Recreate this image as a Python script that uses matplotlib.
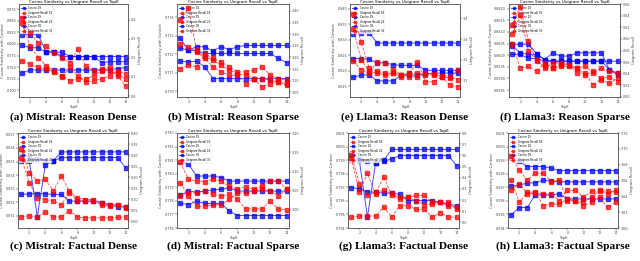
import numpy as np
import matplotlib.pyplot as plt

topk = list(range(1, 15))

series_labels = ["Cosine 1S", "Unigram Recall 1S", "Cosine 2S",
                 "Unigram Recall 2S", "Cosine 3S", "Unigram Recall 3S"]

captions = ["(a) Mistral: Reason Dense", "(b) Mistral: Reason Sparse",
            "(e) Llama3: Reason Dense", "(f) Llama3: Reason Sparse",
            "(c) Mistral: Factual Dense", "(d) Mistral: Factual Sparse",
            "(g) Llama3: Factual Dense", "(h) Llama3: Factual Sparse"]

# (a) Mistral reason dense
a_cos = [[0.820, 0.820, 0.820, 0.783, 0.783, 0.773, 0.773, 0.773, 0.773, 0.773, 0.773, 0.773, 0.773, 0.773],
         [0.797, 0.792, 0.792, 0.783, 0.783, 0.782, 0.773, 0.773, 0.773, 0.773, 0.760, 0.762, 0.762, 0.762],
         [0.738, 0.744, 0.744, 0.744, 0.744, 0.744, 0.744, 0.744, 0.744, 0.744, 0.744, 0.745, 0.747, 0.749]]
a_rec = [[0.409, 0.331, 0.279, 0.262, 0.228, 0.202, 0.176, 0.245, 0.159, 0.133, 0.141, 0.150, 0.116, 0.090],
         [0.383, 0.262, 0.202, 0.159, 0.133, 0.107, 0.081, 0.090, 0.090, 0.107, 0.133, 0.133, 0.107, 0.052],
         [0.185, 0.167, 0.150, 0.141, 0.124, 0.098, 0.150, 0.107, 0.073, 0.081, 0.090, 0.107, 0.133, 0.116]]

# (b) Mistral reason sparse
b_cos = [[0.77234, 0.77222, 0.77240, 0.77240, 0.77218, 0.77240, 0.77225, 0.77240, 0.77247, 0.77247, 0.77247, 0.77247, 0.77247, 0.77247],
         [0.77285, 0.77222, 0.77218, 0.77204, 0.77204, 0.77204, 0.77204, 0.77204, 0.77204, 0.77204, 0.77204, 0.77204, 0.77177, 0.77155],
         [0.77162, 0.77159, 0.77162, 0.77132, 0.77069, 0.77069, 0.77069, 0.77069, 0.77069, 0.77069, 0.77069, 0.77069, 0.77069, 0.77069]]
b_rec = [[3.361, 3.411, 3.231, 3.203, 3.188, 3.167, 3.145, 3.131, 3.124, 3.109, 3.109, 3.102, 3.095, 3.088],
         [3.152, 3.167, 3.160, 3.217, 3.196, 3.181, 3.160, 3.138, 3.138, 3.145, 3.160, 3.124, 3.109, 3.102],
         [3.260, 3.246, 3.224, 3.196, 3.160, 3.138, 3.124, 3.124, 3.088, 3.109, 3.073, 3.088, 3.095, 3.080]]

# (e) Llama3 reason dense
e_cos = [[0.8318, 0.8322, 0.8322, 0.8289, 0.8289, 0.8289, 0.8289, 0.8289, 0.8289, 0.8289, 0.8289, 0.8289, 0.8289, 0.8289],
         [0.8239, 0.8239, 0.8236, 0.8225, 0.8225, 0.8219, 0.8217, 0.8217, 0.8217, 0.8201, 0.8201, 0.8201, 0.8201, 0.8201],
         [0.8178, 0.8186, 0.8186, 0.8167, 0.8167, 0.8167, 0.8186, 0.8186, 0.8186, 0.8189, 0.8192, 0.8192, 0.8192, 0.8192]]
e_rec = [[3.424, 3.284, 3.160, 3.144, 3.135, 3.135, 3.127, 3.119, 3.119, 3.127, 3.127, 3.124, 3.119, 3.102],
         [3.193, 3.152, 3.135, 3.190, 3.185, 3.152, 3.127, 3.135, 3.190, 3.094, 3.094, 3.119, 3.078, 3.070],
         [3.350, 3.201, 3.144, 3.135, 3.127, 3.135, 3.119, 3.135, 3.135, 3.135, 3.130, 3.119, 3.111, 3.152]]

# (f) Llama3 reason sparse
f_cos = [[0.86047, 0.86047, 0.86047, 0.86006, 0.85981, 0.86010, 0.85996, 0.85996, 0.86010, 0.86010, 0.86010, 0.86010, 0.85937, 0.85923],
         [0.86003, 0.86003, 0.85986, 0.85986, 0.85974, 0.85974, 0.85974, 0.85974, 0.85974, 0.85974, 0.85974, 0.85974, 0.85974, 0.85974],
         [0.86040, 0.86010, 0.86003, 0.86003, 0.85981, 0.85974, 0.85974, 0.85974, 0.85974, 0.85974, 0.85974, 0.85974, 0.85937, 0.85915]]
f_rec = [[0.6084, 0.6406, 0.5792, 0.5645, 0.5498, 0.5586, 0.5586, 0.5557, 0.5410, 0.5410, 0.5205, 0.5322, 0.5352, 0.5264],
         [0.6231, 0.6553, 0.5967, 0.5616, 0.5528, 0.5498, 0.5528, 0.5528, 0.5498, 0.5381, 0.5440, 0.5293, 0.5235, 0.5322],
         [0.5909, 0.5498, 0.5528, 0.5440, 0.5586, 0.5498, 0.5557, 0.5557, 0.5498, 0.5528, 0.5410, 0.5498, 0.5440, 0.5410]]

# (c) Mistral factual dense
c_cos = [[0.83505, 0.83505, 0.83092, 0.83473, 0.83505, 0.83571, 0.83571, 0.83571, 0.83571, 0.83571, 0.83571, 0.83571, 0.83571, 0.83571],
         [0.83554, 0.83529, 0.83517, 0.83505, 0.83505, 0.83529, 0.83529, 0.83529, 0.83529, 0.83529, 0.83529, 0.83529, 0.83529, 0.83455],
         [0.83257, 0.83262, 0.83262, 0.83262, 0.83257, 0.83257, 0.83208, 0.83208, 0.83208, 0.83208, 0.83196, 0.83183, 0.83166, 0.83166]]
c_rec = [[0.327, 0.221, 0.183, 0.190, 0.137, 0.206, 0.137, 0.107, 0.099, 0.099, 0.084, 0.076, 0.076, 0.061],
         [0.289, 0.175, 0.107, 0.099, 0.092, 0.076, 0.130, 0.092, 0.092, 0.092, 0.076, 0.069, 0.076, 0.066],
         [0.020, 0.026, 0.020, 0.043, 0.020, 0.020, 0.049, 0.020, 0.016, 0.016, 0.016, 0.016, 0.019, 0.019]]

# (d) Mistral factual sparse
d_cos = [[0.78095, 0.78070, 0.77983, 0.77983, 0.77983, 0.77971, 0.77946, 0.77946, 0.77946, 0.77946, 0.77946, 0.77946, 0.77946, 0.77946],
         [0.77840, 0.77872, 0.77865, 0.77872, 0.77880, 0.77885, 0.77897, 0.77872, 0.77872, 0.77872, 0.77872, 0.77872, 0.77872, 0.77872],
         [0.77781, 0.77773, 0.77798, 0.77781, 0.77781, 0.77781, 0.77724, 0.77692, 0.77692, 0.77692, 0.77692, 0.77692, 0.77692, 0.77692]]
d_rec = [[3.124, 3.080, 3.075, 3.073, 3.080, 3.075, 3.062, 3.053, 3.060, 3.053, 3.062, 3.075, 3.075, 3.053],
         [3.071, 3.036, 3.009, 3.009, 3.013, 3.013, 3.027, 3.044, 3.044, 3.049, 3.053, 3.049, 3.037, 3.053],
         [3.036, 3.044, 3.044, 3.049, 3.040, 3.036, 3.040, 3.027, 3.002, 3.002, 3.002, 3.022, 3.002, 3.000]]

# (g) Llama3 factual dense
g_cos = [[0.79903, 0.79898, 0.79481, 0.79878, 0.79898, 0.79979, 0.79979, 0.79979, 0.79979, 0.79979, 0.79979, 0.79979, 0.79979, 0.79979],
         [0.79954, 0.79909, 0.79891, 0.79878, 0.79891, 0.79909, 0.79934, 0.79934, 0.79934, 0.79934, 0.79934, 0.79934, 0.79934, 0.79858],
         [0.79697, 0.79690, 0.79665, 0.79665, 0.79657, 0.79657, 0.79647, 0.79602, 0.79602, 0.79602, 0.79602, 0.79589, 0.79576, 0.79564]]
g_rec = [[0.577, 0.271, 0.439, 0.256, 0.409, 0.241, 0.225, 0.225, 0.241, 0.241, 0.179, 0.179, 0.149, 0.134],
         [0.607, 0.348, 0.241, 0.271, 0.287, 0.262, 0.210, 0.225, 0.195, 0.158, 0.164, 0.179, 0.179, 0.118],
         [0.048, 0.057, 0.057, 0.057, 0.134, 0.048, 0.149, 0.149, 0.118, 0.118, 0.048, 0.088, 0.048, 0.048]]

# (h) Llama3 factual sparse
h_cos = [[0.59916, 0.59891, 0.59853, 0.59853, 0.59853, 0.59840, 0.59823, 0.59823, 0.59823, 0.59823, 0.59823, 0.59823, 0.59823, 0.59823],
         [0.59707, 0.59715, 0.59732, 0.59732, 0.59753, 0.59745, 0.59740, 0.59740, 0.59740, 0.59740, 0.59740, 0.59740, 0.59740, 0.59740],
         [0.59496, 0.59551, 0.59551, 0.59644, 0.59644, 0.59644, 0.59652, 0.59614, 0.59614, 0.59614, 0.59614, 0.59614, 0.59614, 0.59614]]
h_rec = [[3.6906, 3.6734, 3.6605, 3.6691, 3.6691, 3.6583, 3.6605, 3.6345, 3.6345, 3.6324, 3.6389, 3.6475, 3.6432, 3.6475],
         [3.6605, 3.6324, 3.6453, 3.6453, 3.6281, 3.6302, 3.6302, 3.6367, 3.6345, 3.6281, 3.6324, 3.6389, 3.6259, 3.6324],
         [3.6475, 3.6561, 3.6432, 3.6440, 3.6432, 3.6432, 3.6345, 3.6475, 3.6475, 3.6389, 3.6466, 3.6466, 3.6466, 3.6453]]

cos_data = [a_cos, b_cos, e_cos, f_cos, c_cos, d_cos, g_cos, h_cos]
rec_data = [a_rec, b_rec, e_rec, f_rec, c_rec, d_rec, g_rec, h_rec]

# axis ranges (left cosine, right recall)
cos_lims = [(0.686, 0.886), (0.7697, 0.7747), (0.8115, 0.8415), (0.8582, 0.8622),
            (0.8301, 0.8371), (0.7760, 0.7830), (0.7940, 0.8010), (0.5940, 0.6010)]
rec_lims = [(-0.005, 0.483), (3.03, 3.43), (3.02, 3.47), (0.50, 0.66),
            (-0.03, 0.40), (2.952, 3.201), (-0.05, 0.80), (3.60, 3.72)]

# axes boxes in pixels: left, right, top, bottom
boxes = [(19, 128, 4, 97), (177, 289, 4, 97), (350, 460, 4, 97), (509, 620, 4, 97),
         (18, 128, 133, 228), (177, 289, 133, 228), (348, 459, 133, 228), (508, 618, 133, 228)]
W, H = 640, 261

fig = plt.figure(figsize=(6.4, 2.61), dpi=100)

for i in range(8):
    l, r, t, b = boxes[i]
    ax = fig.add_axes([l / W, 1 - b / H, (r - l) / W, (b - t) / H])
    ax2 = ax.twinx()
    handles = []
    for j in range(3):
        h1, = ax.plot(topk, cos_data[i][j], '-s', color='blue', alpha=0.7,
                      lw=0.7, ms=2.2, label=series_labels[2 * j])
        h2, = ax2.plot(topk, rec_data[i][j], '--s', color='red', alpha=0.7,
                       lw=0.6, ms=2.2, label=series_labels[2 * j + 1])
        handles += [h1, h2]
    ax.set_xlim(0.6, 14.3)
    ax.set_ylim(*cos_lims[i])
    ax2.set_ylim(*rec_lims[i])
    ax.set_xticks(range(2, 15, 2))
    ax.set_title("Cosine Similarity vs Unigram Recall vs TopK", fontsize=3.0, pad=1)
    ax.set_xlabel("TopK", fontsize=2.6, labelpad=1, color='#444444')
    ax.set_ylabel("Cosine Similarity with Context", fontsize=2.6, labelpad=1, color='#444444')
    ax2.set_ylabel("Unigram Recall", fontsize=2.6, labelpad=1, color='#444444')
    for a in (ax, ax2):
        a.tick_params(labelsize=2.4, length=1.2, width=0.3, pad=1, labelcolor='#444444')
        for s in a.spines.values():
            s.set_linewidth(0.4)
            s.set_color('#444444')
    ax.legend(handles=handles, loc='upper left', fontsize=1.9, markerscale=0.8,
              handlelength=2, borderpad=0.3, labelspacing=0.2, framealpha=0.8,
              edgecolor='#cccccc').get_frame().set_linewidth(0.3)
    cy = 117 if i < 4 else 246
    fig.text((l + r) / 2 / W, 1 - cy / H, captions[i], ha='center', va='center',
             fontsize=8.2, fontweight='bold', family='Liberation Serif')

fig.savefig("out.png", dpi=100)
